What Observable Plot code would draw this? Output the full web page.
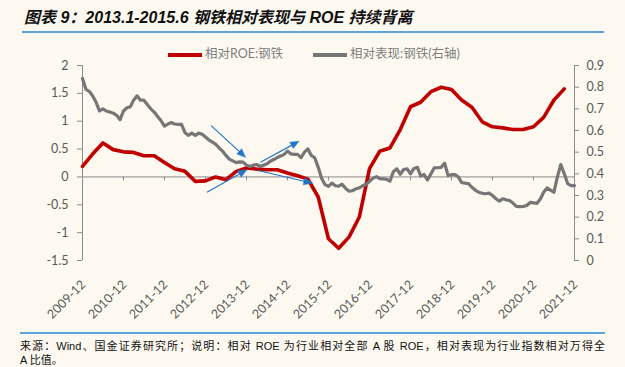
<!DOCTYPE html>
<html><head><meta charset="utf-8">
<script src="https://cdn.jsdelivr.net/npm/d3@7"></script>
<script src="https://cdn.jsdelivr.net/npm/@observablehq/plot@0.6"></script>
<style>
html,body{margin:0;padding:0;background:#fdf9f0;}
#wrap{position:relative;width:625px;height:367px;overflow:hidden;background:#fdf9f0;}
#chart{position:absolute;left:0;top:0;}
#title{position:absolute;left:24px;top:8px;font:italic bold 16px "Liberation Sans","Noto Sans CJK SC",sans-serif;color:#111;white-space:nowrap;line-height:20px;}
.hr{position:absolute;height:1.5px;background:#5aa5dc;}
.lg{position:absolute;font:12.5px Lato,"Noto Sans CJK SC",sans-serif;color:#7f7f7f;white-space:nowrap;line-height:16px;}
.sw{position:absolute;height:3.5px;}
#foot{position:absolute;left:20px;top:339px;width:585px;font:11px "Liberation Sans","Noto Sans CJK SC",sans-serif;color:#111;line-height:14px;}
#foot .l1{display:block;text-align:justify;text-align-last:justify;white-space:nowrap;}
</style></head>
<body>
<div id="wrap">
  <div id="chart"></div>
  <div id="title">图表 9：2013.1-2015.6 钢铁相对表现与 ROE 持续背离</div>
  <div class="hr" style="left:22px;top:31px;width:582px;"></div>
  <div class="sw" style="left:168px;top:53px;width:34px;background:#c00000;"></div>
  <div class="lg" style="left:205px;top:46px;">相对ROE:钢铁</div>
  <div class="sw" style="left:313px;top:53px;width:34px;background:#767676;"></div>
  <div class="lg" style="left:350px;top:46px;">相对表现:钢铁(右轴)</div>
  <div class="hr" style="left:20px;top:332px;width:585px;"></div>
  <div id="foot"><span class="l1">来源：Wind、国金证券研究所；说明：相对 ROE 为行业相对全部 A 股 ROE，相对表现为行业指数相对万得全</span>A 比值。</div>
</div>
<script>
// ---- data ----
const startMonth = [2009, 11];            // 2009-12
const endMonth = [2021, 11];              // 2021-12
const yearTickLabels = ["2009-12","2010-12","2011-12","2012-12","2013-12","2014-12","2015-12","2016-12","2017-12","2018-12","2019-12","2020-12","2021-12"];
const leftTicks = [2, 1.5, 1, 0.5, 0, -0.5, -1, -1.5];
const rightTicks = [0.9, 0.8, 0.7, 0.6, 0.5, 0.4, 0.3, 0.2, 0.1, 0];
// 相对ROE:钢铁 (quarterly, from 2009-12)
const roeValues = [0.19,0.41,0.61,0.49,0.45,0.44,0.38,0.38,0.26,0.145,0.10,-0.08,-0.07,0.00,-0.05,0.10,
  0.16,0.14,0.13,0.13,0.07,0.02,-0.04,-0.36,-1.11,-1.28,-1.08,-0.72,0.15,0.46,0.52,0.85,
  1.26,1.34,1.53,1.61,1.57,1.38,1.25,0.99,0.90,0.88,0.85,0.85,0.90,1.07,1.38,1.58];
// 相对表现:钢铁(右轴) (monthly, from 2009-12)
const perfValues = [
  0.84,0.79,0.78,0.76,0.73,0.69,0.70,0.69,0.685,0.68,0.67,0.65,
  0.69,0.705,0.71,0.74,0.76,0.74,0.74,0.72,0.70,0.685,0.665,0.645,
  0.62,0.63,0.637,0.63,0.628,0.628,0.59,0.578,0.588,0.577,0.588,0.583,
  0.57,0.556,0.546,0.537,0.52,0.505,0.485,0.468,0.46,0.452,0.455,0.454,
  0.44,0.434,0.44,0.443,0.434,0.44,0.446,0.458,0.466,0.475,0.482,0.49,
  0.505,0.492,0.49,0.49,0.475,0.50,0.515,0.485,0.474,0.43,0.38,0.35,
  0.342,0.357,0.345,0.343,0.352,0.333,0.32,0.322,0.331,0.335,0.345,0.352,
  0.365,0.38,0.387,0.378,0.377,0.375,0.366,0.41,0.423,0.398,0.42,0.423,
  0.40,0.425,0.43,0.39,0.397,0.372,0.40,0.428,0.428,0.43,0.449,0.392,
  0.396,0.397,0.385,0.36,0.357,0.355,0.338,0.325,0.315,0.31,0.308,0.311,
  0.30,0.285,0.274,0.285,0.28,0.277,0.265,0.25,0.249,0.25,0.254,0.268,
  0.266,0.264,0.285,0.315,0.335,0.325,0.315,0.385,0.443,0.40,0.355,0.346,
  0.346];
// annotation arrows (months after 2009-12, left-axis units)
const arrowStartM = [37.6, 36.4, 52.1, 51.4];
const arrowStartV = [0.92, -0.275, 0.263, 0.115];
const arrowEndM = [47.7, 48.1, 63.4, 67.3];
const arrowEndV = [0.355, 0.127, 0.64, -0.113];

// ---- helpers ----
const monthDate = m => {
  const whole = Math.floor(m), frac = m - whole;
  const a = new Date(Date.UTC(startMonth[0], startMonth[1] + whole, 1));
  const b = new Date(Date.UTC(startMonth[0], startMonth[1] + whole + 1, 1));
  return new Date(+a + frac * (b - a));
};
const x0 = monthDate(0);
const x1 = new Date(Date.UTC(endMonth[0], endMonth[1], 1));
const rMax = 0.9, yMin = -1.5, yMax = 2;
const rToY = r => yMin + r / rMax * (yMax - yMin);

const roe = roeValues.map((v, i) => ({date: monthDate(i * 3), v}));
const perf = perfValues.map((r, i) => ({date: monthDate(i), v: rToY(r)}));
const years = yearTickLabels.map((t, i) => ({date: monthDate(i * 12), t}));
const arrows = arrowStartM.map((m, i) => ({
  xa: monthDate(m), ya: arrowStartV[i], xb: monthDate(arrowEndM[i]), yb: arrowEndV[i], id: i
}));

const axisColor = "#8c8c8c", labelColor = "#595959", blue = "#1f78c8";
const font = "Lato, 'Noto Sans CJK SC', sans-serif";

function build(extra) {
  return Plot.plot({
    width: 625, height: 367,
    marginLeft: 82, marginRight: 51, marginTop: 65, marginBottom: 107,
    style: {background: "transparent", fontFamily: font, overflow: "visible"},
    x: {type: "utc", domain: [x0, x1], axis: null},
    y: {domain: [yMin, yMax], axis: null},
    marks: [
      // left axis
      Plot.ruleX([x0], {y1: yMin, y2: yMax, stroke: axisColor, strokeWidth: 1}),
      Plot.ruleY(leftTicks, {y: d => d, x1: x0, x2: x0, insetLeft: -5, stroke: axisColor}),
      Plot.text(leftTicks, {x: x0, y: d => d, text: d => String(d), textAnchor: "end", dx: -14, fill: labelColor, fontSize: 12.5}),
      // right axis
      Plot.ruleX([x1], {y1: yMin, y2: yMax, stroke: axisColor, strokeWidth: 1}),
      Plot.ruleY(rightTicks, {y: d => rToY(d), x1: x1, x2: x1, insetRight: -5, stroke: axisColor}),
      Plot.text(rightTicks, {x: x1, y: d => rToY(d), text: d => d === 0 ? "0" : d.toFixed(1), textAnchor: "start", dx: 12, fill: labelColor, fontSize: 12.5}),
      // category axis at zero
      Plot.ruleY([0], {x1: x0, x2: x1, stroke: axisColor, strokeWidth: 1}),
      Plot.ruleX(years, {x: "date", y1: 0, y2: 0, insetBottom: -4, stroke: axisColor}),
      Plot.text(years, {x: "date", y: yMin, text: "t", rotate: -45, textAnchor: "end", dx: 1, dy: 22, fill: labelColor, fontSize: 12.5}),
      // series
      Plot.line(roe, {x: "date", y: "v", stroke: "#c00000", strokeWidth: 3.6, strokeLinejoin: "round", strokeLinecap: "round"}),
      Plot.line(perf, {x: "date", y: "v", stroke: "#767676", strokeWidth: 3.2, strokeLinejoin: "round"}),
      ...extra
    ]
  });
}

let chart = build([]);
const sx = chart.scale("x"), sy = chart.scale("y");
if (sx && sx.apply && sx.invert && sy.apply && sy.invert) {
  const L = 8.5, w = 3.6;
  const links = [], heads = [];
  arrows.forEach(a => {
    const ax = sx.apply(a.xa), ay = sy.apply(a.ya), bx = sx.apply(a.xb), by = sy.apply(a.yb);
    const dx = bx - ax, dy = by - ay, len = Math.hypot(dx, dy);
    const ux = dx / len, uy = dy / len, nx = -uy, ny = ux;
    const cx = bx - ux * L, cy = by - uy * L;
    links.push({x1: a.xa, y1: a.ya, x2: sx.invert(cx + ux), y2: sy.invert(cy + uy)});
    [[bx, by], [cx + nx * w, cy + ny * w], [cx - nx * w, cy - ny * w], [bx, by]].forEach(([px, py]) =>
      heads.push({id: a.id, x: sx.invert(px), y: sy.invert(py)}));
  });
  chart = build([
    Plot.link(links, {x1: "x1", y1: "y1", x2: "x2", y2: "y2", stroke: blue, strokeWidth: 1.2}),
    Plot.line(heads, {x: "x", y: "y", z: "id", fill: blue, stroke: blue, strokeWidth: 0.5})
  ]);
} else {
  chart = build([Plot.arrow(arrows, {x1: "xa", y1: "ya", x2: "xb", y2: "yb", stroke: blue, strokeWidth: 1.2, headLength: 8})]);
}
document.getElementById("chart").appendChild(chart);
</script>
</body></html>
